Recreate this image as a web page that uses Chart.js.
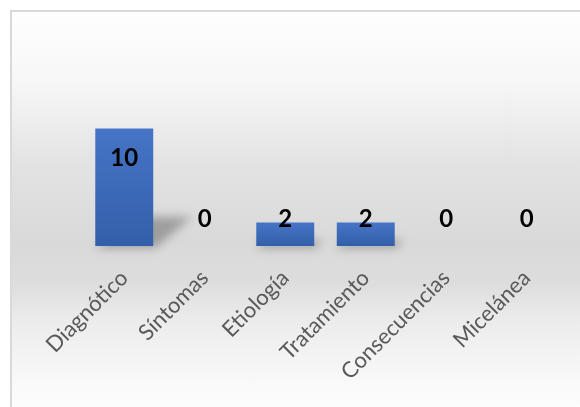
<!DOCTYPE html>
<html>
<head>
<meta charset="utf-8">
<script src="https://cdn.jsdelivr.net/npm/chart.js@4/dist/chart.umd.min.js"></script>
<style>
    html, body {
        margin: 0;
        padding: 0;
        background: #ffffff;
    }
    .frame {
        position: absolute;
        left: 10px;
        top: 10px;
        width: 600px;
        height: 420px;
        border: 2px solid #d9d9d9;
        background: linear-gradient(to bottom,
            #fefefe 0px, #f7f7f7 70px, #e3e3e3 150px, #d9d9d9 230px,
            #dddddd 270px, #ececec 310px, #f9f9f9 370px, #fdfdfd 400px);
    }
    #topicChart {
        position: absolute;
        left: 0;
        top: 0;
    }
</style>
</head>
<body>
<div class="frame"></div>
<canvas id="topicChart" width="580" height="407"></canvas>
<script>
const categories = ['Diagnótico', 'Síntomas', 'Etiología', 'Tratamiento', 'Consecuencias', 'Micelánea'];
const counts = [10, 0, 2, 2, 0, 0];
const yMax = 12;

// soft floor shadow behind each bar, sheared to the right
const barShadow = {
    id: 'barShadow',
    beforeDatasetsDraw(chart) {
        const ctx = chart.ctx;
        const meta = chart.getDatasetMeta(0);
        ctx.save();
        ctx.filter = 'blur(5px)';
        ctx.fillStyle = 'rgba(0, 0, 0, 0.28)';
        meta.data.forEach(function (bar) {
            const h = bar.base - bar.y;
            if (h <= 0) return;
            const left = bar.x - bar.width / 2;
            const right = bar.x + bar.width / 2;
            const dx = h * 0.33;
            const dy = h * 0.25;
            ctx.beginPath();
            ctx.moveTo(left, bar.base + 2);
            ctx.lineTo(right + 2, bar.base + 2);
            ctx.lineTo(right + dx, bar.base - dy);
            ctx.lineTo(left + dx, bar.base - dy);
            ctx.closePath();
            ctx.fill();
        });
        ctx.restore();
    }
};

// value labels: inside the top of tall bars, just above short ones
const valueLabels = {
    id: 'valueLabels',
    afterDatasetsDraw(chart) {
        const ctx = chart.ctx;
        const meta = chart.getDatasetMeta(0);
        ctx.save();
        ctx.font = 'bold 24px Lato';
        ctx.fillStyle = '#000000';
        ctx.textAlign = 'center';
        ctx.textBaseline = 'middle';
        meta.data.forEach(function (bar, i) {
            const y = Math.min(bar.y + 30, bar.base - 27);
            ctx.fillText(String(counts[i]), bar.x, y);
        });
        ctx.restore();
    }
};

function barFill(context) {
    const chart = context.chart;
    const y = chart.scales.y;
    if (!y) return '#4472c4';
    const top = y.getPixelForValue(context.raw);
    const bottom = y.getPixelForValue(0);
    if (!isFinite(top) || !isFinite(bottom) || bottom - top < 1) return '#4472c4';
    const g = chart.ctx.createLinearGradient(0, top, 0, bottom);
    g.addColorStop(0, '#4675c7');
    g.addColorStop(1, '#335ea9');
    return g;
}

const ctx = document.getElementById('topicChart').getContext('2d');

const topicChart = new Chart(ctx, {
    type: 'bar',
    data: {
        labels: categories,
        datasets: [{
            data: counts,
            backgroundColor: barFill,
            borderWidth: 0,
            barPercentage: 0.72,
            categoryPercentage: 1
        }]
    },
    options: {
        responsive: false,
        animation: false,
        layout: {
            padding: { left: 84, right: 13, top: 105, bottom: 20 }
        },
        scales: {
            x: {
                grid: { display: false },
                border: { display: false },
                ticks: {
                    minRotation: 45,
                    maxRotation: 45,
                    padding: 11,
                    color: '#595959',
                    font: { family: 'Lato', size: 22 }
                }
            },
            y: {
                display: false,
                min: 0,
                max: yMax
            }
        },
        plugins: {
            legend: { display: false },
            tooltip: { enabled: false }
        }
    },
    plugins: [barShadow, valueLabels]
});
</script>
</body>
</html>
